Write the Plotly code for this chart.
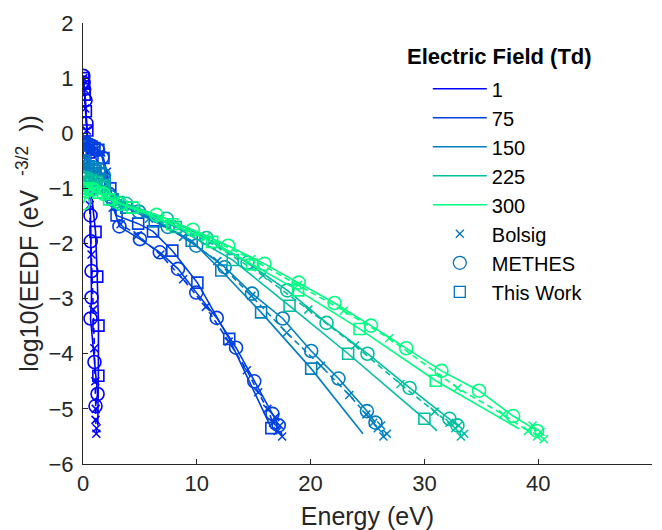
import plotly.graph_objects as go

# Reduced electric fields (Td) and their colours (winter colormap, 5 steps)
fields = ["1", "75", "150", "225", "300"]
field_colors = ["rgb(0,0,255)", "rgb(0,64,223)", "rgb(0,128,191)",
                "rgb(0,191,159)", "rgb(0,255,128)"]

# ---- E/N = 1 Td ----
bolsig_1_x = [0.03, 0.1, 0.2, 0.33, 0.45, 0.6, 0.75, 0.9, 1.0, 1.08, 1.12, 1.1, 1.19, 1.17]
bolsig_1_y = [1.0, 0.8, 0.45, 0.05, -0.5, -1.3, -2.2, -3.2, -3.9, -4.5, -5.0, -5.2, -5.35, -5.45]
methes_1_x = [0.03, 0.05, 0.1, 0.22, 0.3, 0.4, 0.5, 0.66, 0.68, 0.75, 0.75, 0.66, 1.01, 1.28, 1.1]
methes_1_y = [1.04, 0.92, 0.8, 0.6, 0.18, -0.3, -0.9, -1.49, -1.96, -2.5, -2.98, -3.36, -4.15, -4.73, -4.95]
work_1_x = [0.03, 0.08, 0.15, 0.25, 0.38, 0.5, 0.7, 1.1, 1.25, 1.36, 1.35, 1.3]
work_1_y = [1.0, 0.9, 0.7, 0.4, 0.05, -0.35, -1.0, -1.79, -2.6, -3.49, -4.4, -5.3]

# ---- E/N = 75 Td ----
bolsig_75_x = [0.05, 0.3, 0.7, 1.2, 1.6, 2.1, 2.6, 3.3, 4.8, 6.8, 8.8, 10.8, 12.8, 14.4,
               15.4, 16.2, 16.7, 16.9, 17.1, 17.3, 17.5]
bolsig_75_y = [-0.2, -0.22, -0.25, -0.28, -0.35, -0.7, -1.35, -1.65, -1.85, -2.2, -2.65,
               -3.15, -3.78, -4.3, -4.7, -5.0, -5.25, -5.15, -5.4, -5.3, -5.5]
methes_75_x = [0.05, 0.4, 0.9, 1.3, 1.7, 2.3, 3.2, 5.0, 6.75, 8.35, 9.95, 11.75, 13.45,
               15.05, 16.65, 17.2]
methes_75_y = [-0.53, -0.3, -0.25, -0.3, -0.44, -1.1, -1.69, -1.92, -2.16, -2.46, -2.89,
               -3.35, -3.89, -4.5, -5.09, -5.3]
work_75_x = [0.03, 0.15, 0.35, 0.55, 0.75, 1.0, 1.35, 1.8, 2.4, 2.95, 4.85, 6.15, 7.85,
             10.05, 12.85, 16.55, 17.4]
work_75_y = [-0.15, -0.18, -0.2, -0.22, -0.24, -0.27, -0.3, -0.45, -1.0, -1.49, -1.64,
             -1.78, -2.13, -2.71, -3.73, -5.35, -5.45]

# ---- E/N = 150 Td ----
bolsig_150_x = [0.05, 0.4, 0.9, 1.4, 1.8, 2.5, 3.3, 5.8, 8.8, 11.8, 14.8, 17.9, 20.9,
                23.4, 24.9, 25.5, 25.9, 26.2, 26.4, 26.7]
bolsig_150_y = [-0.6, -0.65, -0.68, -0.7, -0.8, -1.15, -1.3, -1.55, -1.88, -2.32, -2.95,
                -3.62, -4.22, -4.75, -5.1, -5.25, -5.35, -5.3, -5.5, -5.45]
methes_150_x = [0.05, 0.4, 0.9, 1.4, 1.8, 2.4, 4.9, 7.45, 9.95, 12.45, 14.85, 17.55,
                20.05, 22.45, 24.95, 25.7]
methes_150_y = [-0.55, -0.6, -0.62, -0.65, -0.75, -1.15, -1.42, -1.7, -2.04, -2.43,
                -2.91, -3.36, -3.95, -4.45, -5.04, -5.25]
work_150_x = [0.03, 0.2, 0.5, 0.8, 1.1, 1.45, 1.9, 2.6, 3.8, 6.3, 9.55, 12.15, 15.65,
              20.05, 24.6]
work_150_y = [-0.5, -0.55, -0.6, -0.65, -0.68, -0.72, -0.85, -1.2, -1.35, -1.6, -1.95,
              -2.49, -3.25, -4.27, -5.45]

# ---- E/N = 225 Td ----
bolsig_225_x = [0.05, 0.4, 0.9, 1.8, 2.8, 4.8, 7.8, 11.8, 15.8, 19.8, 23.9, 27.9, 30.9,
                32.2, 32.7, 33.0, 33.2, 33.5]
bolsig_225_y = [-0.85, -0.87, -0.9, -1.0, -1.2, -1.38, -1.65, -2.05, -2.58, -3.2, -3.85,
                -4.55, -5.05, -5.25, -5.35, -5.3, -5.5, -5.45]
methes_225_x = [0.05, 0.5, 1.1, 1.8, 3.8, 7.35, 10.85, 14.45, 17.95, 21.4, 25.0, 28.7,
                32.2, 32.9]
methes_225_y = [-0.9, -0.88, -0.9, -1.0, -1.28, -1.55, -1.9, -2.35, -2.85, -3.44, -4.0,
                -4.62, -5.18, -5.3]
work_225_x = [0.03, 0.3, 0.7, 1.2, 1.8, 3.1, 8.15, 13.15, 18.15, 23.3, 30.0, 31.1]
work_225_y = [-0.8, -0.82, -0.85, -0.88, -0.95, -1.25, -1.7, -2.3, -3.13, -4.0, -5.18,
              -5.4]

# ---- E/N = 300 Td ----
bolsig_300_x = [0.05, 0.4, 0.9, 1.8, 2.8, 6.8, 10.8, 14.8, 18.9, 22.9, 26.9, 32.9, 36.9,
                39.1, 39.5, 39.9, 40.2, 40.5]
bolsig_300_y = [-1.05, -1.05, -1.05, -1.12, -1.25, -1.55, -1.88, -2.28, -2.75, -3.22,
                -3.72, -4.62, -5.1, -5.4, -5.3, -5.5, -5.42, -5.55]
methes_300_x = [0.05, 0.3, 0.9, 1.8, 3.3, 6.45, 9.65, 12.75, 15.95, 18.95, 22.1, 25.3,
                28.4, 31.5, 34.8, 37.8, 39.9]
methes_300_y = [-1.27, -1.05, -1.02, -1.1, -1.28, -1.48, -1.75, -2.04, -2.37, -2.71,
                -3.08, -3.49, -3.9, -4.31, -4.67, -5.13, -5.4]
work_300_x = [0.03, 0.3, 0.8, 1.35, 2.3, 4.35, 7.85, 11.35, 14.85, 18.9, 24.3, 31.0, 38.3]
work_300_y = [-1.0, -1.0, -1.03, -1.08, -1.2, -1.35, -1.65, -1.97, -2.38, -2.85, -3.55,
              -4.49, -5.36]

bolsig_x = [bolsig_1_x, bolsig_75_x, bolsig_150_x, bolsig_225_x, bolsig_300_x]
bolsig_y = [bolsig_1_y, bolsig_75_y, bolsig_150_y, bolsig_225_y, bolsig_300_y]
methes_x = [methes_1_x, methes_75_x, methes_150_x, methes_225_x, methes_300_x]
methes_y = [methes_1_y, methes_75_y, methes_150_y, methes_225_y, methes_300_y]
work_x = [work_1_x, work_75_x, work_150_x, work_225_x, work_300_x]
work_y = [work_1_y, work_75_y, work_150_y, work_225_y, work_300_y]

source_names = ["Bolsig", "METHES", "This Work"]
legend_title = "Electric Field (Td)"
legend_marker_color = "#0072BD"

axis_color = "#262626"
font_family = "Liberation Sans, Arial, Helvetica, sans-serif"
lw = 1.6
nb = "\u00a0"

fig = go.Figure()

for i, col in enumerate(field_colors):
    # Bolsig: dashed line with x markers
    fig.add_trace(go.Scatter(
        x=bolsig_x[i], y=bolsig_y[i], mode="lines+markers",
        line=dict(color=col, width=lw, dash="6px,4px"),
        marker=dict(symbol="x-thin", size=8, line=dict(color=col, width=1.5)),
        showlegend=False, hoverinfo="skip"))
    # METHES: solid line with open circles
    fig.add_trace(go.Scatter(
        x=methes_x[i], y=methes_y[i], mode="lines+markers",
        line=dict(color=col, width=lw),
        marker=dict(symbol="circle-open", size=13, color=col, line=dict(width=lw)),
        showlegend=False, hoverinfo="skip"))
    # This Work: solid line, open squares on all but the last sample
    fig.add_trace(go.Scatter(
        x=work_x[i], y=work_y[i], mode="lines",
        line=dict(color=col, width=lw),
        showlegend=False, hoverinfo="skip"))
    fig.add_trace(go.Scatter(
        x=work_x[i][:-1], y=work_y[i][:-1], mode="markers",
        marker=dict(symbol="square-open", size=11, color=col, line=dict(width=lw)),
        showlegend=False, hoverinfo="skip"))

# Legend entries: one line per field, one marker per data source
for name, col in zip(fields, field_colors):
    fig.add_trace(go.Scatter(
        x=[None], y=[None], mode="lines", name=name,
        line=dict(color=col, width=lw)))
legend_symbols = ["x-thin", "circle-open", "square-open"]
legend_sizes = [8, 13, 11]
for name, sym, sz in zip(source_names, legend_symbols, legend_sizes):
    fig.add_trace(go.Scatter(
        x=[None], y=[None], mode="markers", name=name,
        marker=dict(symbol=sym, size=sz, color=legend_marker_color,
                    line=dict(color=legend_marker_color, width=1.3))))

fig.add_annotation(
    text="<b>" + legend_title + "</b>", xref="paper", yref="paper",
    x=0.566, y=0.923, xanchor="left", yanchor="middle", showarrow=False,
    font=dict(size=22, color="#000000"))

fig.update_layout(
    width=662, height=530,
    margin=dict(l=83, r=10, t=23, b=66),
    paper_bgcolor="white", plot_bgcolor="white",
    font=dict(family=font_family, size=22, color=axis_color),
    legend=dict(
        x=0.606, y=0.895, xanchor="left", yanchor="top",
        bgcolor="rgba(0,0,0,0)", borderwidth=0,
        font=dict(size=20, color="#000000"),
        itemwidth=54,
    ),
    xaxis=dict(
        range=[0, 50], tickmode="linear", tick0=0, dtick=10,
        ticks="inside", ticklen=5, tickcolor=axis_color, tickwidth=1,
        showline=True, linecolor=axis_color, linewidth=1,
        showgrid=False, zeroline=False, mirror=False, automargin=False,
        tickfont=dict(size=22, color=axis_color),
        title=dict(text="Energy (eV)", font=dict(size=25, color=axis_color), standoff=14),
    ),
    yaxis=dict(
        range=[-6, 2], tickmode="linear", tick0=-6, dtick=1,
        ticks="inside", ticklen=5, tickcolor=axis_color, tickwidth=1,
        showline=True, linecolor=axis_color, linewidth=1,
        showgrid=False, zeroline=False, mirror=False, automargin=False,
        ticklabelstandoff=4,
        tickfont=dict(size=22, color=axis_color),
        title=dict(text="log10(EEDF (eV" + nb * 2 + "<sup>-3/2</sup>" + nb * 2 + "))",
                   font=dict(size=25, color=axis_color), standoff=2),
    ),
)

fig.write_html("out.html")
